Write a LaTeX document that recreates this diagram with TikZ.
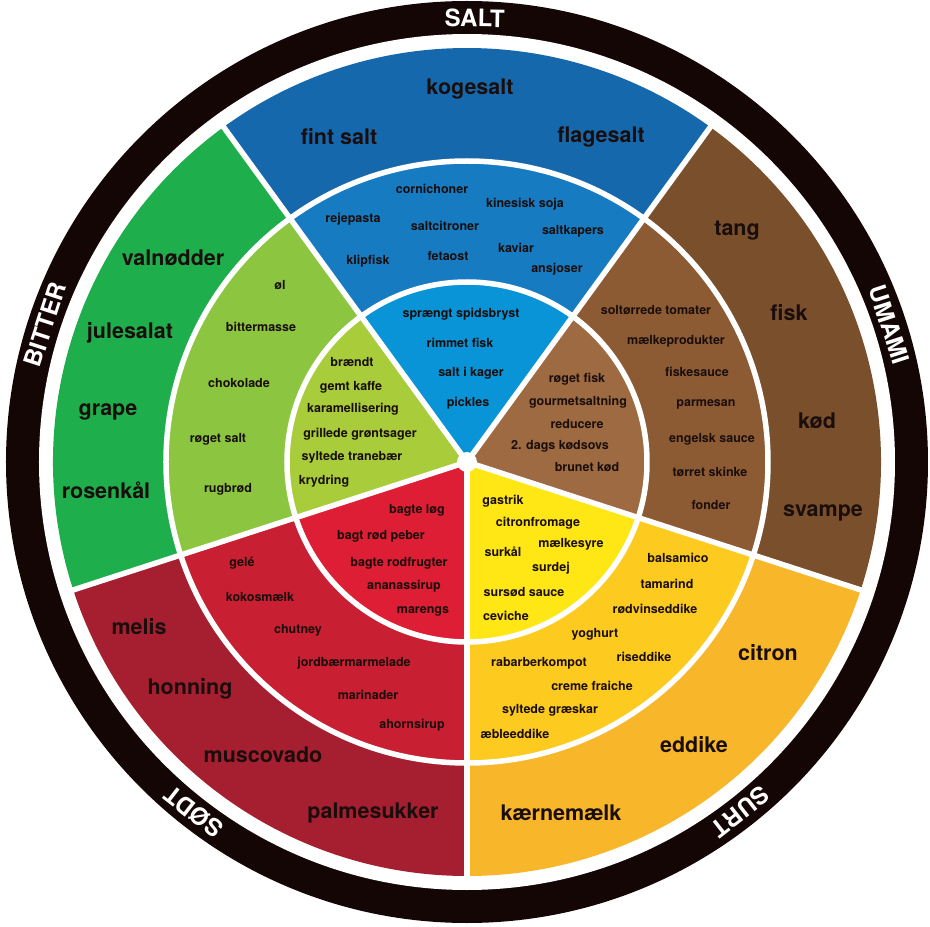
\documentclass[tikz,border=0pt]{standalone}
\usepackage{fontspec}
\setmainfont{TeX Gyre Heros}
\usepackage{xcolor}
\usepackage{tikz}
\usetikzlibrary{calc}
\definecolor{ink}{HTML}{1A0E0C}
\definecolor{rim}{HTML}{140605}
\definecolor{saltout}{HTML}{1668AC}
\definecolor{saltmid}{HTML}{177BC2}
\definecolor{saltin}{HTML}{0894D7}
\definecolor{umamiout}{HTML}{7A4F2B}
\definecolor{umamimid}{HTML}{8C5A33}
\definecolor{umamiin}{HTML}{9D6A41}
\definecolor{surtout}{HTML}{F8B62A}
\definecolor{surtmid}{HTML}{FDCB20}
\definecolor{surtin}{HTML}{FFE615}
\definecolor{soedtout}{HTML}{A51F30}
\definecolor{soedtmid}{HTML}{C81F33}
\definecolor{soedtin}{HTML}{DE1E34}
\definecolor{bitterout}{HTML}{1FAE4C}
\definecolor{bittermid}{HTML}{8CC540}
\definecolor{bitterin}{HTML}{A8CC3A}
\tikzset{
bigword/.style={
text=ink,
inner sep=0pt,
yshift=-2pt,
font=\bfseries\fontsize{21.5}{24}\selectfont
},
smallword/.style={
text=ink,
inner sep=0pt,
font=\bfseries\fontsize{12.5}{14}\selectfont
},
taste/.style={
text=white,
inner sep=0pt,
font=\bfseries\fontsize{24}{28}\selectfont
},
divider/.style={
white,
line width=5.5pt
}
}

\begin{document}
\begin{tikzpicture}[x=1pt,y=1pt]
\useasboundingbox (-466,-467) rectangle (464,460);
\coordinate (c) at (1,-2);
\fill[rim] (c) circle[radius=461];
\fill[white] (c) circle[radius=428];

\foreach \a/\o/\m/\i in {54/saltout/saltmid/saltin,126/bitterout/bittermid/bitterin,198/soedtout/soedtmid/soedtin,270/surtout/surtmid/surtin,342/umamiout/umamimid/umamiin}{
\fill[\o] (c) -- ++(\a:414) arc[start angle=\a,delta angle=72,radius=414] -- cycle;
\fill[\m] (c) -- ++(\a:301) arc[start angle=\a,delta angle=72,radius=301] -- cycle;
\fill[\i] (c) -- ++(\a:180) arc[start angle=\a,delta angle=72,radius=180] -- cycle;
}
\draw[divider] (c) circle[radius=180] (c) circle[radius=301];
\foreach \a in {54,126,198,270,342}
\draw[divider] (c) -- ++(\a:420);
\fill[white] (c) circle[radius=10];

\foreach \a/\t/\n in {89/SALT/salt,18/UMAMI/umami,-52/SURT/surt,232/SØDT/soedt,162/BITTER/bitter}
\node[taste,rotate=\a-90](\n) at ($(c)+(\a:444)$){\t};

% salt
\foreach \x/\y/\t [count=\k] in {4/373/kogesalt,-127/325/fint salt,135/325/flagesalt}
\node[bigword](saltout\k) at (\x,\y){\t};
\foreach \x/\y/\t [count=\k] in {-34/271/cornichoner,59/256/kinesisk soja,-113/241/rejepasta,-21/234/saltcitroner,107/229/saltkapers,-98/199/klipfisk,-18/204/fetaost,50/212/kaviar,91/191/ansjoser}
\node[smallword](saltmid\k) at (\x,\y){\t};
\foreach \x/\y/\t [count=\k] in {-5/146/sprængt spidsbryst,-6/117/rimmet fisk,5/87/salt i kager,2/57/pickles}
\node[smallword](saltin\k) at (\x,\y){\t};

% umami
\foreach \x/\y/\t [count=\k] in {271/231/tang,323/149/fisk,351/41/kød,357/-51/svampe}
\node[bigword](umamiout\k) at (\x,\y){\t};
\foreach \x/\y/\t [count=\k] in {190/150/soltørrede tomater,210/119/mælkeprodukter,231/88/fiskesauce,240/56/parmesan,246/21/engelsk sauce,244/-12/tørret skinke,245/-45/fonder}
\node[smallword](umamimid\k) at (\x,\y){\t};
\foreach \x/\y/\t [count=\k] in {111/81/røget fisk,112/58/gourmetsaltning,111/36/reducere,94/14/2. dags kødsovs,121/-7/brunet kød}
\node[smallword](umamiin\k) at (\x,\y){\t};

% surt
\foreach \x/\y/\t [count=\k] in {302/-191/citron,228/-283/eddike,95/-351/kærnemælk}
\node[bigword](surtout\k) at (\x,\y){\t};
\foreach \x/\y/\t [count=\k] in {212/-98/balsamico,201/-124/tamarind,189/-149/rødvinseddike,129/-174/yoghurt,178/-197/riseddike,73/-203/rabarberkompot,126/-226/creme fraiche,84/-250/syltede græskar,49/-274/æbleeddike}
\node[smallword](surtmid\k) at (\x,\y){\t};
\foreach \x/\y/\t [count=\k] in {37/-41/gastrik,72/-63/citronfromage,105/-84/mælkesyre,37/-92/surkål,85/-108/surdej,58/-132/sursød sauce,40/-156/ceviche}
\node[smallword](surtin\k) at (\x,\y){\t};

% soedt
\foreach \x/\y/\t [count=\k] in {-327/-165/melis,-276/-227/honning,-203/-293/muscovado,-93/-351/palmesukker}
\node[bigword](soedtout\k) at (\x,\y){\t};
\foreach \x/\y/\t [count=\k] in {-224/-103/gelé,-206/-137/kokosmælk,-168/-170/chutney,-112/-203/jordbærmarmelade,-98/-235/marinader,-54/-265/ahornsirup}
\node[smallword](soedtmid\k) at (\x,\y){\t};
\foreach \x/\y/\t [count=\k] in {-49/-50/bagte løg,-85/-76/bagt rød peber,-67/-103/bagte rodfrugter,-62/-126/ananassirup,-43/-151/marengs}
\node[smallword](soedtin\k) at (\x,\y){\t};

% bitter
\foreach \x/\y/\t [count=\k] in {-293/204/valnødder,-336/129/julesalat,-358/50/grape,-360/-28/rosenkål}
\node[bigword](bitterout\k) at (\x,\y){\t};
\foreach \x/\y/\t [count=\k] in {-186/175/øl,-205/133/bittermasse,-227/77/chokolade,-248/21/røget salt,-238/-29/rugbrød}
\node[smallword](bittermid\k) at (\x,\y){\t};
\foreach \x/\y/\t [count=\k] in {-114/98/brændt,-115/73/gemt kaffe,-113/51/karamellisering,-106/26/grillede grøntsager,-114/3/syltede tranebær,-142/-21/krydring}
\node[smallword](bitterin\k) at (\x,\y){\t};
\end{tikzpicture}
\end{document}
